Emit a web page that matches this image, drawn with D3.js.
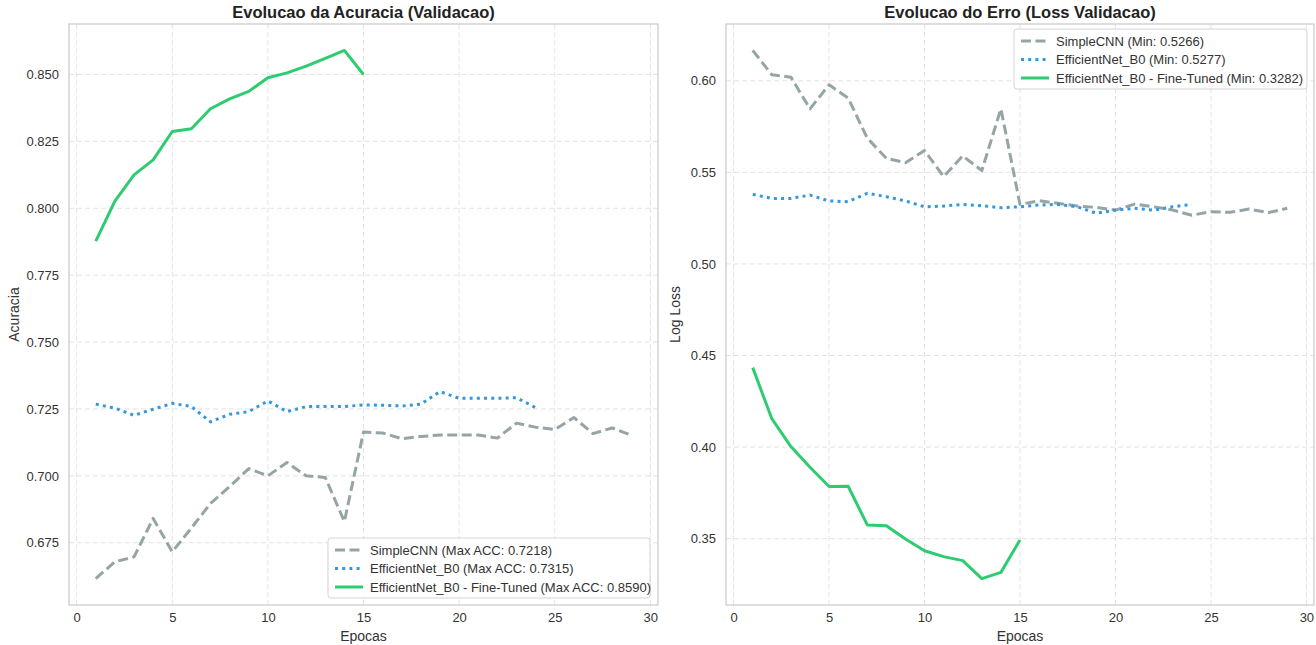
<!DOCTYPE html>
<head>
	<meta charset="utf-8">
	<script src="https://d3js.org/d3.v7.min.js"></script>
	<style>
	    body { margin: 0; background: white; }
	    svg { font-family: "Liberation Sans", Arial, sans-serif; }
	    .tick text { fill: #333; font-size: 13px; }
	    .title { font-weight: bold; font-size: 16.5px; fill: #222; }
	    .axlabel { font-size: 14px; fill: #333; }
	    .leg text { font-size: 13px; fill: #333; }
	</style>
</head>
<body>
    <script>
        // data
        var accSimple = [0.6616, 0.6679, 0.6697, 0.6841, 0.6716, 0.6805, 0.6897, 0.6960, 0.7027, 0.7000,
                         0.7050, 0.7000, 0.6994, 0.6829, 0.7164, 0.7160, 0.7139, 0.7147, 0.7153, 0.7153,
                         0.7153, 0.7141, 0.7197, 0.7182, 0.7173, 0.7218, 0.7158, 0.7179, 0.7152];
        var accEff = [0.7268, 0.7253, 0.7226, 0.7249, 0.7271, 0.7259, 0.7202, 0.7230, 0.7240, 0.7280,
                      0.7240, 0.7259, 0.7259, 0.7259, 0.7265, 0.7264, 0.7261, 0.7268, 0.7315, 0.7290,
                      0.7290, 0.7290, 0.7292, 0.7255];
        var accFine = [0.7877, 0.8027, 0.8125, 0.8181, 0.8287, 0.8297, 0.8372, 0.8409, 0.8437, 0.8488,
                       0.8506, 0.8531, 0.8560, 0.8590, 0.8500];

        var lossSimple = [0.6166, 0.6033, 0.6020, 0.5847, 0.5978, 0.5905, 0.5687, 0.5577, 0.5553, 0.5619,
                          0.5477, 0.5590, 0.5510, 0.5847, 0.5325, 0.5345, 0.5331, 0.5316, 0.5309, 0.5294,
                          0.5327, 0.5312, 0.5294, 0.5266, 0.5285, 0.5282, 0.5300, 0.5280, 0.5304];
        var lossEff = [0.5380, 0.5358, 0.5358, 0.5376, 0.5344, 0.5340, 0.5386, 0.5367, 0.5344, 0.5312,
                       0.5316, 0.5325, 0.5318, 0.5307, 0.5312, 0.5322, 0.5325, 0.5312, 0.5277, 0.5294,
                       0.5304, 0.5294, 0.5312, 0.5325];
        var lossFine = [0.4434, 0.4155, 0.4003, 0.3890, 0.3785, 0.3786, 0.3575, 0.3571, 0.3498, 0.3434,
                        0.3402, 0.3380, 0.3282, 0.3316, 0.3493];

        var xTicks = [0, 5, 10, 15, 20, 25, 30];
        var accTicks = [0.675, 0.700, 0.725, 0.750, 0.775, 0.800, 0.825, 0.850];
        var lossTicks = [0.35, 0.40, 0.45, 0.50, 0.55, 0.60];

        var accNames = ["SimpleCNN (Max ACC: 0.7218)", "EfficientNet_B0 (Max ACC: 0.7315)",
                        "EfficientNet_B0 - Fine-Tuned (Max ACC: 0.8590)"];
        var lossNames = ["SimpleCNN (Min: 0.5266)", "EfficientNet_B0 (Min: 0.5277)",
                         "EfficientNet_B0 - Fine-Tuned (Min: 0.3282)"];

        var colors = ["#95a5a6", "#3498db", "#2ecc71"];
        var dashes = ["10,4.5", "3,4.2", null];

        var w = 1316, h = 645;
        var svg = d3.select("body").append("svg")
            .attr("width", w)
            .attr("height", h);

        function panel(opt) {
            var g = svg.append("g");
            var series = opt.series;
            var all = d3.merge(series);
            var lo = d3.min(all), hi = d3.max(all), pad = (hi - lo) * 0.05;

            var xScale = d3.scaleLinear().domain([-0.4, 30.4]).range([opt.left, opt.right]);
            var yScale = d3.scaleLinear().domain([lo - pad, hi + pad]).range([opt.bottom, opt.top]);

            // grid
            g.selectAll(".vgrid").data(xTicks).enter().append("line")
                .attr("x1", function(d) { return xScale(d); })
                .attr("x2", function(d) { return xScale(d); })
                .attr("y1", opt.top).attr("y2", opt.bottom)
                .attr("stroke", "#e3e3e3").attr("stroke-width", 1)
                .attr("stroke-dasharray", "5,3");
            g.selectAll(".hgrid").data(opt.yTicks).enter().append("line")
                .attr("y1", function(d) { return yScale(d); })
                .attr("y2", function(d) { return yScale(d); })
                .attr("x1", opt.left).attr("x2", opt.right)
                .attr("stroke", "#e3e3e3").attr("stroke-width", 1)
                .attr("stroke-dasharray", "5,3");

            // axes
            var xa = g.append("g").attr("transform", "translate(0," + opt.bottom + ")")
                .call(d3.axisBottom(xScale).tickValues(xTicks).tickSize(0).tickPadding(8));
            xa.select(".domain").remove();
            var ya = g.append("g").attr("transform", "translate(" + opt.left + ",0)")
                .call(d3.axisLeft(yScale).tickValues(opt.yTicks).tickSize(0).tickPadding(10)
                    .tickFormat(d3.format(opt.fmt)));
            ya.select(".domain").remove();
            g.selectAll(".tick text").style("font-family", "Liberation Sans, Arial, sans-serif");

            // lines
            var line = d3.line()
                .x(function(d, i) { return xScale(i + 1); })
                .y(function(d) { return yScale(d); });
            series.forEach(function(s, k) {
                g.append("path")
                    .datum(s)
                    .attr("d", line)
                    .attr("fill", "none")
                    .attr("stroke", colors[k])
                    .attr("stroke-width", 3)
                    .attr("stroke-linejoin", "round")
                    .attr("stroke-dasharray", dashes[k]);
            });

            // frame
            g.append("rect")
                .attr("x", opt.left).attr("y", opt.top)
                .attr("width", opt.right - opt.left).attr("height", opt.bottom - opt.top)
                .attr("fill", "none").attr("stroke", "#cccccc").attr("stroke-width", 1.3);

            // titles
            g.append("text").attr("class", "title")
                .attr("x", (opt.left + opt.right) / 2).attr("y", 18)
                .attr("text-anchor", "middle").text(opt.title);
            g.append("text").attr("class", "axlabel")
                .attr("x", (opt.left + opt.right) / 2).attr("y", 641)
                .attr("text-anchor", "middle").text("Epocas");
            g.append("text").attr("class", "axlabel")
                .attr("transform", "translate(" + opt.ylabX + "," + ((opt.top + opt.bottom) / 2) + ") rotate(-90)")
                .attr("text-anchor", "middle").text(opt.ylabel);

            // legend
            var lg = g.append("g").attr("class", "leg");
            lg.append("rect")
                .attr("x", opt.leg.x).attr("y", opt.leg.y)
                .attr("width", opt.leg.w).attr("height", 60)
                .attr("rx", 3)
                .attr("fill", "white").attr("fill-opacity", 0.85)
                .attr("stroke", "#d5d5d5").attr("stroke-width", 1);
            opt.names.forEach(function(n, k) {
                var yy = opt.leg.y + 12 + k * 18.5;
                lg.append("line")
                    .attr("x1", opt.leg.x + 7).attr("x2", opt.leg.x + 35)
                    .attr("y1", yy).attr("y2", yy)
                    .attr("stroke", colors[k]).attr("stroke-width", 3)
                    .attr("stroke-dasharray", dashes[k]);
                lg.append("text")
                    .attr("x", opt.leg.x + 42).attr("y", yy + 4.5)
                    .text(n);
            });
        }

        panel({
            series: [accSimple, accEff, accFine],
            left: 69, right: 658, top: 24, bottom: 605,
            yTicks: accTicks, fmt: ".3f",
            title: "Evolucao da Acuracia (Validacao)",
            ylabel: "Acuracia", ylabX: 19,
            names: accNames,
            leg: {x: 328, y: 538, w: 322}
        });

        panel({
            series: [lossSimple, lossEff, lossFine],
            left: 726, right: 1314, top: 24, bottom: 605,
            yTicks: lossTicks, fmt: ".2f",
            title: "Evolucao do Erro (Loss Validacao)",
            ylabel: "Log Loss", ylabX: 680,
            names: lossNames,
            leg: {x: 1014, y: 29, w: 293}
        });
    </script>
</body>
